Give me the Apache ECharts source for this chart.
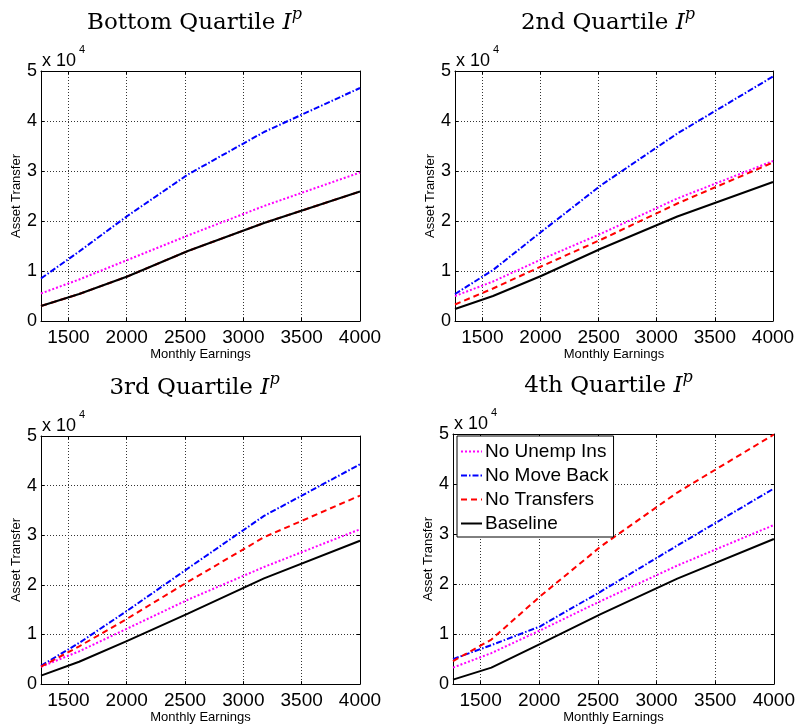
<!DOCTYPE html>
<html><head><meta charset="utf-8">
<script src="https://cdn.jsdelivr.net/npm/echarts@6/dist/echarts.min.js"></script>
<style>html,body{margin:0;padding:0;background:#fff}#c{width:798px;height:725px}</style>
</head><body><div id="c"></div>
<script>
// ---- data ----
const earnings = [1265, 1592, 2005, 2524, 3177, 4000];
const seriesNames = ['No Unemp Ins', 'No Move Back', 'No Transfers', 'Baseline'];
const panelTitles = ['Bottom Quartile', '2nd Quartile', '3rd Quartile', '4th Quartile'];
const xAxisName = 'Monthly Earnings';
const yAxisName = 'Asset Transfer';
const yScaleLabel = 'x 10';
const yScaleExp = '4';

const q1NoUnempIns = [5500, 8300, 12200, 17100, 23000, 29700];
const q1NoMoveBack = [8500, 13900, 21000, 29300, 37800, 46600];
const q1NoTransfers = [3000, 5400, 8900, 14000, 19600, 25900];
const q1Baseline = [3000, 5400, 8900, 14000, 19600, 25900];

const q2NoUnempIns = [5000, 7900, 12300, 17500, 24500, 32000];
const q2NoMoveBack = [5400, 10200, 17800, 27200, 37500, 48900];
const q2NoTransfers = [3300, 6500, 10900, 16300, 23500, 31700];
const q2Baseline = [2400, 5000, 9000, 14500, 20900, 27800];

const q3NoUnempIns = [3500, 6600, 11200, 17000, 23600, 31200];
const q3NoMoveBack = [3700, 8300, 14800, 23300, 33900, 44300];
const q3NoTransfers = [3500, 7600, 13200, 20600, 29600, 38000];
const q3Baseline = [1700, 4500, 8700, 14200, 21300, 28900];

const q4NoUnempIns = [3300, 6200, 10700, 16600, 23700, 31800];
const q4NoMoveBack = [5000, 7800, 11500, 18500, 27700, 39100];
const q4NoTransfers = [4600, 8900, 17500, 27500, 38300, 49900];
const q4Baseline = [900, 3300, 8000, 14000, 21100, 29000];

const panels = [
  [q1NoUnempIns, q1NoMoveBack, q1NoTransfers, q1Baseline],
  [q2NoUnempIns, q2NoMoveBack, q2NoTransfers, q2Baseline],
  [q3NoUnempIns, q3NoMoveBack, q3NoTransfers, q3Baseline],
  [q4NoUnempIns, q4NoMoveBack, q4NoTransfers, q4Baseline]
];

// ---- layout / styles ----
const grids = [
  {left: 41, top: 71, width: 319, height: 250},
  {left: 455, top: 71, width: 318, height: 250},
  {left: 41, top: 436, width: 319, height: 251},
  {left: 453, top: 434, width: 323, height: 253}
];
const lineStyles = [
  {color: '#ff00ff', width: 2, type: [2, 2]},
  {color: '#0000ff', width: 2, type: [6, 2, 1.5, 2]},
  {color: '#ff0000', width: 2, type: [6, 4]},
  {color: '#000000', width: 2, type: 'solid'}
];
const sans = 'Liberation Sans';
const serif = 'DejaVu Serif';

const xAxes = [], yAxes = [], series = [], graphics = [];
grids.forEach((g, i) => {
  const common = {gridIndex: i, type: 'value'};
  xAxes.push(Object.assign({}, common, {
    position: 'bottom', min: 1265, max: 4000, splitNumber: 5,
    name: xAxisName, nameLocation: 'middle', nameGap: 24,
    nameTextStyle: {fontFamily: sans, fontSize: 13, color: '#000'},
    axisLine: {show: true, onZero: false, lineStyle: {color: '#000', width: 1}},
    axisTick: {show: true, inside: true, length: 3, lineStyle: {color: '#000'}},
    axisLabel: {show: true, showMinLabel: false, margin: 7, fontFamily: sans, fontSize: 19, color: '#000',
      formatter: v => String(v)},
    splitLine: {show: true, lineStyle: {color: '#333', width: 1, type: [1, 2]}}
  }));
  xAxes.push(Object.assign({}, common, {
    position: 'top', min: 1265, max: 4000, splitNumber: 5,
    axisLine: {show: true, onZero: false, lineStyle: {color: '#000', width: 1}},
    axisTick: {show: true, inside: true, length: 3, lineStyle: {color: '#000'}},
    axisLabel: {show: false}, splitLine: {show: false}
  }));
  yAxes.push(Object.assign({}, common, {
    position: 'left', min: 0, max: 50000, interval: 10000,
    name: yAxisName, nameLocation: 'middle', nameGap: 17,
    nameTextStyle: {fontFamily: sans, fontSize: 13, color: '#000'},
    axisLine: {show: true, onZero: false, lineStyle: {color: '#000', width: 1}},
    axisTick: {show: true, inside: true, length: 3, lineStyle: {color: '#000'}},
    axisLabel: {show: true, margin: 4, fontFamily: sans, fontSize: 18, color: '#000',
      formatter: v => String(v / 10000)},
    splitLine: {show: true, lineStyle: {color: '#333', width: 1, type: [1, 2]}}
  }));
  yAxes.push(Object.assign({}, common, {
    position: 'right', min: 0, max: 50000, interval: 10000,
    axisLine: {show: true, onZero: false, lineStyle: {color: '#000', width: 1}},
    axisTick: {show: true, inside: true, length: 3, lineStyle: {color: '#000'}},
    axisLabel: {show: false}, splitLine: {show: false}
  }));
  panels[i].forEach((vals, k) => {
    series.push({
      name: seriesNames[k], type: 'line', xAxisIndex: 2 * i, yAxisIndex: 2 * i,
      data: earnings.map((x, j) => [x, vals[j]]),
      symbol: 'none', showSymbol: false, lineStyle: lineStyles[k], itemStyle: {color: lineStyles[k].color},
      emphasis: {disabled: true}, silent: true, z: 2 + k
    });
  });
  // panel title
  graphics.push({
    type: 'text', x: g.left + g.width / 2 - 6, y: g.top - 64,
    style: {
      text: '{t|' + panelTitles[i] + ' }{i|I}{p|p}',
      align: 'center', verticalAlign: 'top',
      rich: {
        t: {fontFamily: serif, fontSize: 23, lineHeight: 28, verticalAlign: 'bottom', fill: '#000'},
        i: {fontFamily: serif, fontStyle: 'italic', fontSize: 23, lineHeight: 28, verticalAlign: 'bottom', fill: '#000'},
        p: {fontFamily: serif, fontStyle: 'italic', fontSize: 16, lineHeight: 19, verticalAlign: 'top', fill: '#000'}
      }
    }
  });
  // scale label x 10^4
  graphics.push({
    type: 'text', x: g.left + 1, y: g.top - 10,
    style: {text: yScaleLabel, fontFamily: sans, fontSize: 18, fill: '#000', align: 'left', verticalAlign: 'middle'}
  });
  graphics.push({
    type: 'text', x: g.left + 38, y: g.top - 21,
    style: {text: yScaleExp, fontFamily: sans, fontSize: 11, fill: '#000', align: 'left', verticalAlign: 'middle'}
  });
});

const chart = echarts.init(document.getElementById('c'), null, {renderer: 'canvas'});
chart.setOption({
  animation: false,
  backgroundColor: '#fff',
  grid: grids.map(g => Object.assign({containLabel: false, show: false}, g)),
  xAxis: xAxes,
  yAxis: yAxes,
  legend: {
    data: seriesNames, orient: 'vertical', left: 457, top: 436,
    backgroundColor: '#fff', borderColor: '#000', borderWidth: 1, borderRadius: 0,
    padding: [6, 5, 4, 3], itemWidth: 21, itemHeight: 12, itemGap: 5,
    selectedMode: false, z: 20,
    itemStyle: {opacity: 0},
    textStyle: {fontFamily: sans, fontSize: 19, color: '#000', padding: [0, 0, 0, -2]}
  },
  series: series,
  graphic: graphics
});
</script></body></html>
